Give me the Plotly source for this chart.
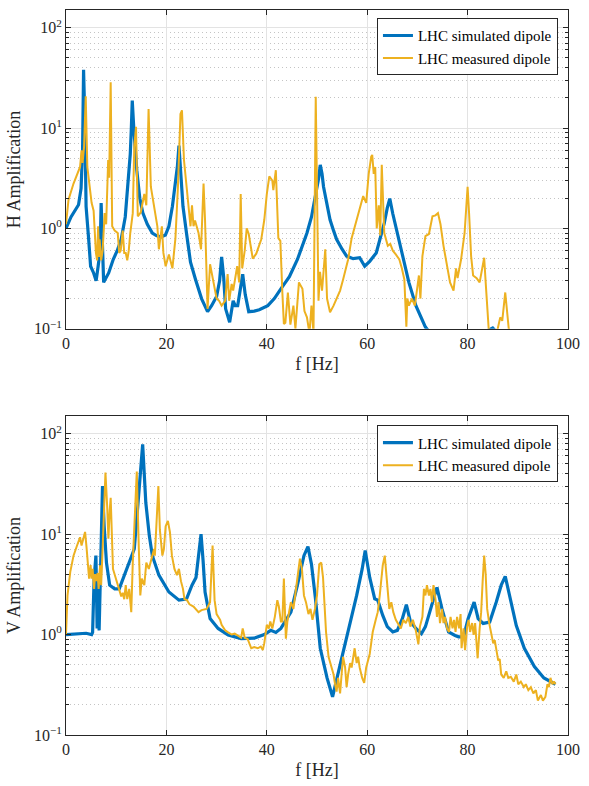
import numpy as np
import plotly.graph_objects as go

# Horizontal amplification: (frequency [Hz], amplification)
h_sim = [
    (0, 1.0), (1.0, 1.3), (2.5, 1.72), (3.0, 2.5), (3.3, 6.0), (3.5, 38), (3.75, 12),
    (4.0, 1.66), (4.5, 0.8), (4.9, 0.42), (5.5, 0.36), (6.0, 0.30), (6.4, 0.42),
    (6.8, 0.6), (7.0, 1.79), (7.2, 0.8), (7.5, 0.29), (8.5, 0.36), (9.4, 0.49),
    (10.2, 0.6), (11.0, 0.78), (11.8, 1.3), (12.3, 2.6), (12.8, 5.5), (13.0, 9.5),
    (13.2, 18.8), (13.5, 10), (14.1, 3.8), (14.7, 2.0), (15.3, 1.43), (16.2, 1.1),
    (17.2, 0.9), (18.0, 0.85), (18.9, 0.82), (19.8, 0.86), (20.5, 1.05), (21.2, 1.66),
    (21.8, 2.8), (22.2, 4.2), (22.5, 6.7), (22.8, 3.5), (23.3, 1.66), (24.0, 0.9),
    (24.8, 0.46), (25.8, 0.31), (27.0, 0.2), (28.2, 0.148), (29.0, 0.17), (30.0, 0.21),
    (30.6, 0.3), (31.0, 0.52), (31.4, 0.33), (31.8, 0.158), (32.6, 0.116), (33.3, 0.19),
    (33.7, 0.17), (34.2, 0.17), (34.7, 0.25), (35.2, 0.35), (35.7, 0.22), (36.4, 0.148),
    (37.5, 0.15), (38.5, 0.155), (40.2, 0.17), (41.5, 0.2), (42.8, 0.25), (44.5, 0.33),
    (46.1, 0.49), (47.2, 0.68), (48.0, 0.9), (48.9, 1.3), (49.7, 2.1), (50.3, 3.1),
    (50.65, 4.3), (51.0, 3.5), (51.3, 2.6), (52.0, 1.7), (52.6, 1.22), (53.3, 0.95),
    (53.9, 0.78), (55.0, 0.62), (55.9, 0.53), (57.2, 0.5), (58.5, 0.51), (59.5, 0.42),
    (60.5, 0.47), (61.8, 0.57), (62.6, 0.8), (63.4, 1.13), (64.0, 1.6), (64.5, 1.98),
    (65.1, 1.4), (65.7, 1.05), (67.0, 0.57), (68.3, 0.29), (69.7, 0.17), (71.6, 0.104),
    (73.0, 0.085), (76.0, 0.07), (80.0, 0.075), (84.0, 0.095), (85.0, 0.102),
    (86.0, 0.09), (90.0, 0.06), (95.0, 0.045), (100.0, 0.035),
]

h_meas = [
    (0, 1.1), (0.5, 1.93), (1.5, 2.8), (2.8, 4.1), (3.1, 6.0), (3.3, 4.5), (3.6, 6.5),
    (3.93, 20.7), (4.25, 4.1), (4.5, 3.2), (5.1, 1.8), (5.5, 1.5), (5.76, 0.9),
    (5.96, 0.57), (6.2, 0.48), (6.4, 1.05), (6.6, 0.52), (6.7, 0.78), (7.0, 0.48),
    (7.3, 0.6), (7.7, 1.42), (8.0, 1.1), (8.4, 4.8), (8.6, 3.2), (8.9, 28.6),
    (9.2, 1.05), (9.7, 0.95), (10.3, 0.9), (10.6, 0.57), (10.9, 0.6), (11.3, 0.95),
    (11.6, 0.57), (11.9, 0.57), (12.2, 0.48), (12.5, 0.6), (12.8, 0.9), (13.3, 1.42),
    (13.6, 6.5), (13.95, 10.3), (14.3, 1.32), (14.9, 1.45), (15.6, 2.2), (16.0, 1.7),
    (16.45, 15.5), (16.9, 2.6), (17.5, 1.72), (18.2, 1.05), (18.5, 0.62), (19.1, 1.05),
    (19.4, 0.57), (19.85, 0.42), (20.5, 0.55), (21.2, 0.4), (21.8, 0.8), (22.3, 2.6),
    (22.8, 13.8), (23.1, 15), (23.5, 4.8), (24.2, 2.1), (24.8, 1.05), (25.1, 1.7),
    (25.4, 1.05), (25.7, 1.2), (26.4, 0.9), (26.9, 0.62), (27.4, 2.8), (27.7, 1.2),
    (28.2, 0.158), (28.7, 0.44), (29.4, 0.28), (30.0, 0.2), (30.5, 0.19), (31.0, 0.17),
    (31.7, 0.19), (32.2, 0.35), (32.5, 0.19), (33.0, 0.28), (33.3, 0.24), (33.6, 0.3),
    (34.1, 0.42), (34.5, 0.29), (34.8, 2.2), (35.1, 0.4), (35.6, 0.6), (36.0, 1.0),
    (36.4, 0.88), (36.9, 0.62), (37.2, 0.5), (37.9, 0.56), (38.9, 0.78), (39.5, 1.22),
    (40.0, 2.2), (40.5, 3.3), (41.1, 3.0), (41.3, 2.4), (41.8, 3.8), (42.3, 0.8),
    (42.7, 0.75), (43.1, 0.23), (43.4, 0.112), (43.7, 0.115), (44.2, 0.23), (44.7, 0.11),
    (45.3, 0.17), (45.7, 0.1), (46.4, 0.29), (47.1, 0.25), (47.5, 0.15), (48.0, 0.13),
    (48.5, 0.09), (48.9, 0.17), (49.3, 0.09), (49.75, 20.5), (50.3, 0.19), (50.6, 0.37),
    (51.0, 0.24), (51.3, 0.37), (51.65, 0.62), (52.0, 0.2), (52.6, 0.146), (53.3, 0.17),
    (53.9, 0.2), (54.6, 0.24), (55.2, 0.31), (56.2, 0.49), (56.9, 0.8), (57.9, 1.22),
    (58.5, 1.5), (59.2, 2.1), (59.8, 1.8), (60.3, 3.5), (60.8, 5.2), (61.0, 5.4),
    (61.3, 3.5), (61.6, 4.1), (61.9, 1.0), (62.3, 1.7), (62.6, 0.85), (62.9, 4.3),
    (63.4, 0.9), (64.1, 0.67), (64.6, 0.7), (65.1, 0.6), (65.7, 0.55), (66.4, 0.49),
    (66.9, 0.4), (67.4, 0.31), (67.8, 0.105), (68.0, 0.2), (68.3, 0.17), (68.9, 0.2),
    (69.5, 0.17), (70.3, 0.34), (70.6, 0.2), (71.0, 0.53), (71.6, 0.84), (72.3, 0.88),
    (73.0, 1.32), (73.6, 1.35), (74.1, 1.42), (74.6, 1.1), (75.2, 0.67), (75.9, 0.42),
    (76.5, 0.29), (77.2, 0.24), (77.7, 0.4), (78.0, 0.32), (78.7, 0.49), (79.4, 0.9),
    (80.0, 2.6), (80.3, 1.4), (80.7, 0.53), (81.1, 0.34), (81.8, 0.32), (82.4, 0.29),
    (82.9, 0.4), (83.3, 0.51), (83.6, 0.29), (84.2, 0.1), (85.0, 0.08), (86.0, 0.1),
    (86.5, 0.13), (86.9, 0.12), (87.5, 0.23), (87.9, 0.14), (88.2, 0.1), (89.0, 0.07),
]

# Vertical amplification: (frequency [Hz], amplification)
v_sim = [
    (0, 1.0), (2, 1.02), (4, 1.03), (5.1, 1.0), (5.3, 1.05), (5.6, 3.6), (5.96, 6.1),
    (6.2, 1.15), (6.4, 3.0), (6.6, 1.1), (6.8, 3.0), (7.0, 4.2), (7.27, 30), (7.6, 12),
    (8.06, 5.2), (8.7, 3.1), (9.7, 2.85), (10.6, 2.85), (11.65, 3.9), (12.6, 5.2),
    (13.6, 7.1), (14.3, 19), (14.8, 40), (15.27, 78), (15.9, 20.5), (16.6, 9.6),
    (17.2, 6.1), (18.5, 3.9), (20.5, 2.65), (22.5, 2.2), (24.0, 2.25), (25.1, 3.1),
    (25.9, 3.7), (26.5, 6.5), (26.9, 10), (27.3, 5.5), (27.7, 2.65), (28.7, 1.44),
    (30.3, 1.15), (32.3, 0.99), (34.9, 0.91), (37.5, 0.92), (39.5, 1.0), (40.8, 1.1),
    (41.8, 1.05), (42.8, 1.15), (44.8, 1.67), (46.1, 3.1), (47.4, 6.1), (48.2, 7.5),
    (48.9, 5.0), (49.7, 2.27), (50.65, 0.73), (52.0, 0.37), (53.1, 0.24), (54.6, 0.5),
    (55.9, 0.91), (57.9, 2.45), (59.0, 4.5), (59.6, 6.85), (60.5, 3.7), (61.5, 2.27),
    (62.1, 2.2), (63.1, 1.55), (64.0, 1.2), (65.1, 1.06), (66.0, 1.1), (67.0, 1.44),
    (67.8, 1.98), (68.6, 1.35), (69.7, 1.15), (70.8, 1.02), (71.6, 1.2), (72.6, 1.8),
    (73.9, 2.95), (74.9, 1.8), (76.2, 1.06), (77.5, 0.98), (78.2, 0.95), (79.2, 0.95),
    (80.1, 1.44), (81.3, 2.1), (82.1, 1.44), (83.1, 1.29), (84.4, 1.33), (85.7, 2.1),
    (86.7, 3.1), (87.5, 3.8), (88.3, 2.45), (89.7, 1.23), (91.3, 0.73), (93.3, 0.48),
    (95.2, 0.37), (97.5, 0.32),
]

v_meas = [
    (0, 1.0), (0.3, 2.45), (0.85, 4.2), (1.5, 6.1), (2.2, 7.7), (2.8, 9.3), (3.1, 7.7),
    (3.8, 10.5), (4.1, 7.3), (4.3, 4.9), (4.6, 3.6), (4.9, 4.9), (5.1, 3.6), (5.3, 4.5),
    (5.6, 2.85), (5.8, 4.0), (6.0, 3.4), (6.3, 4.1), (6.5, 2.85), (6.8, 4.9), (7.0, 3.1),
    (7.3, 7.3), (7.86, 41), (8.2, 19), (8.45, 9.0), (8.7, 17), (8.9, 23), (9.36, 4.5),
    (9.9, 3.6), (10.35, 3.1), (10.6, 2.85), (11.0, 2.4), (11.3, 2.6), (11.6, 2.25),
    (11.9, 3.1), (12.2, 2.25), (12.6, 2.85), (13.0, 1.67), (13.3, 5.2), (13.6, 13),
    (14.1, 42), (14.5, 7.3), (14.8, 2.45), (15.1, 3.6), (15.6, 3.1), (16.0, 5.2),
    (16.5, 4.5), (17.0, 5.6), (17.55, 7.1), (17.7, 6.1), (18.0, 13), (18.4, 30),
    (18.7, 11), (19.2, 6.1), (19.5, 7.1), (19.85, 12), (20.3, 13.5), (20.7, 10.5),
    (21.1, 6.1), (21.6, 4.5), (22.1, 3.9), (22.5, 4.5), (22.9, 3.4), (23.3, 2.85),
    (23.6, 2.25), (24.1, 2.2), (24.6, 2.0), (25.4, 1.9), (26.4, 1.67), (27.0, 1.75),
    (28.0, 1.8), (28.7, 2.1), (29.2, 7.7), (29.6, 2.2), (30.0, 1.6), (30.7, 1.4),
    (31.0, 1.25), (31.7, 1.1), (32.3, 1.05), (33.0, 1.0), (33.6, 1.02), (34.3, 0.96),
    (34.9, 0.93), (35.2, 1.15), (35.6, 0.93), (36.2, 0.9), (36.9, 0.73), (37.5, 0.75),
    (38.2, 0.73), (38.8, 0.76), (39.2, 0.7), (39.5, 0.82), (40.0, 1.25), (40.4, 1.15),
    (40.7, 1.35), (41.1, 1.15), (41.6, 1.5), (42.1, 2.2), (42.4, 1.9), (42.8, 1.35),
    (43.1, 1.35), (43.4, 3.6), (43.8, 0.91), (44.1, 1.35), (44.8, 2.1), (45.3, 1.8),
    (45.7, 2.65), (46.2, 4.2), (46.6, 5.7), (47.0, 4.5), (47.4, 2.45), (47.8, 2.1),
    (48.3, 1.6), (48.7, 1.8), (49.1, 1.4), (49.6, 1.8), (50.0, 2.45), (50.45, 5.0),
    (50.85, 5.2), (51.2, 3.7), (51.5, 1.8), (51.8, 1.06), (52.3, 0.6), (52.75, 0.5),
    (53.3, 0.4), (53.6, 0.32), (53.9, 0.27), (54.2, 0.37), (54.6, 0.26), (54.9, 0.4),
    (55.2, 0.6), (55.6, 0.47), (55.9, 0.3), (56.2, 0.4), (56.6, 0.52), (56.9, 0.47),
    (57.2, 0.6), (57.5, 0.73), (57.9, 0.52), (58.2, 0.6), (58.5, 0.47), (59.0, 0.37),
    (59.4, 0.33), (59.8, 0.47), (60.5, 0.64), (61.1, 1.06), (61.7, 1.4), (62.1, 1.67),
    (62.5, 2.45), (62.8, 3.6), (63.1, 4.9), (63.5, 6.1), (63.8, 4.2), (64.1, 2.45),
    (64.4, 1.8), (64.8, 2.1), (65.2, 1.67), (65.7, 1.4), (66.2, 1.25), (66.7, 1.15),
    (67.2, 1.4), (67.7, 1.3), (68.2, 1.5), (68.6, 1.2), (69.1, 1.4), (69.6, 1.15),
    (70.2, 0.8), (70.5, 1.2), (71.0, 1.5), (71.3, 2.85), (71.6, 2.45), (71.9, 3.1),
    (72.3, 2.45), (72.6, 2.85), (72.9, 2.1), (73.2, 3.1), (73.6, 2.25), (73.9, 1.5),
    (74.2, 2.1), (74.5, 1.3), (74.9, 1.8), (75.2, 1.3), (75.5, 1.5), (75.9, 1.15),
    (76.3, 1.06), (76.6, 1.5), (77.0, 1.15), (77.3, 1.4), (77.6, 1.06), (77.9, 1.5),
    (78.3, 1.15), (78.6, 1.6), (78.8, 0.73), (79.2, 1.15), (79.5, 0.7), (79.9, 1.2),
    (80.2, 1.4), (80.5, 1.06), (80.9, 1.3), (81.2, 0.99), (81.5, 1.3), (81.8, 0.82),
    (82.0, 0.58), (82.4, 1.15), (82.7, 1.67), (83.0, 3.4), (83.3, 6.1), (83.6, 4.0),
    (83.9, 1.8), (84.3, 1.3), (84.7, 0.99), (85.1, 0.82), (85.4, 0.88), (85.8, 0.7),
    (86.1, 0.55), (86.4, 0.57), (86.7, 0.4), (87.2, 0.37), (87.7, 0.43), (88.1, 0.37),
    (88.6, 0.38), (89.2, 0.34), (89.7, 0.4), (90.1, 0.32), (90.6, 0.34), (91.2, 0.3),
    (91.6, 0.32), (92.1, 0.28), (92.6, 0.3), (93.1, 0.26), (93.6, 0.28), (94.0, 0.22),
    (94.6, 0.25), (95.0, 0.22), (95.5, 0.24), (95.9, 0.32), (96.2, 0.3), (96.5, 0.37),
    (96.9, 0.32), (97.2, 0.34), (97.5, 0.32),
]

x_ticks = [0, 20, 40, 60, 80, 100]
y_ticks = [0.1, 1, 10, 100]
y_ticktext = ["10<sup>\u22121</sup>", "10<sup>0</sup>", "10<sup>1</sup>", "10<sup>2</sup>"]
series_names = ["LHC simulated dipole", "LHC measured dipole"]

BLUE = "#0072BD"
ORANGE = "#EDB120"
FONT = "'Liberation Serif', 'Times New Roman', Times, serif"
AXIS_COLOR = "#262626"

minor_vals = [m * 10.0 ** e for e in range(-1, 3) for m in range(2, 10)]


def split(pairs):
    f, a = zip(*pairs)
    return list(f), list(a)


fig = go.Figure()

panels = [
    ("x", "y", "legend", h_sim, h_meas),
    ("x2", "y2", "legend2", v_sim, v_meas),
]
for xa, ya, leg, sim, meas in panels:
    fs, vs = split(sim)
    fm, vm = split(meas)
    fig.add_trace(go.Scatter(x=fs, y=vs, mode="lines", name=series_names[0],
                             line=dict(color=BLUE, width=3.2), xaxis=xa, yaxis=ya,
                             legend=leg))
    fig.add_trace(go.Scatter(x=fm, y=vm, mode="lines", name=series_names[1],
                             line=dict(color=ORANGE, width=2), xaxis=xa, yaxis=ya,
                             legend=leg))

xaxis_common = dict(
    range=[0, 100], tickvals=x_ticks, ticks="inside", ticklen=5, tickcolor=AXIS_COLOR,
    showline=True, linecolor=AXIS_COLOR, linewidth=1, mirror="allticks",
    showgrid=True, gridcolor="#e3e3e3", gridwidth=1, zeroline=False,
    tickfont=dict(family=FONT, size=16, color="#262626"),
    title=dict(text="f [Hz]", font=dict(family=FONT, size=18, color="#262626"), standoff=6),
)
yaxis_common = dict(
    type="log", range=[-1, np.log10(150)], tickvals=y_ticks, ticktext=y_ticktext,
    ticks="inside", ticklen=5, tickcolor=AXIS_COLOR,
    showline=True, linecolor=AXIS_COLOR, linewidth=1, mirror="allticks",
    showgrid=True, gridcolor="#e3e3e3", gridwidth=1, zeroline=False,
    tickfont=dict(family=FONT, size=16, color="#262626"),
    minor=dict(tickmode="array", tickvals=minor_vals, ticks="inside", ticklen=3,
               tickcolor=AXIS_COLOR, showgrid=True, gridcolor="#c4c4c4",
               griddash="1px,3px", gridwidth=1),
)

legend_common = dict(
    xanchor="right", x=0.98, yanchor="top", bgcolor="white",
    bordercolor=AXIS_COLOR, borderwidth=1,
    font=dict(family=FONT, size=15, color="#000000"),
    tracegroupgap=0,
)

fig.update_layout(
    width=589, height=786,
    margin=dict(l=66, r=15, t=9, b=47),
    paper_bgcolor="white", plot_bgcolor="white",
    font=dict(family=FONT),
    xaxis=dict(xaxis_common, domain=[0, 1], anchor="y"),
    yaxis=dict(yaxis_common, domain=[0.5603, 1], anchor="x",
               title=dict(text="H Amplification",
                          font=dict(family=FONT, size=18, color="#262626"), standoff=8)),
    xaxis2=dict(xaxis_common, domain=[0, 1], anchor="y2"),
    yaxis2=dict(yaxis_common, domain=[0, 0.4401], anchor="x2",
                title=dict(text="V Amplification",
                           font=dict(family=FONT, size=18, color="#262626"), standoff=8)),
    legend=dict(legend_common, y=0.9886),
    legend2=dict(legend_common, y=0.427),
)

fig.write_html("out.html")
